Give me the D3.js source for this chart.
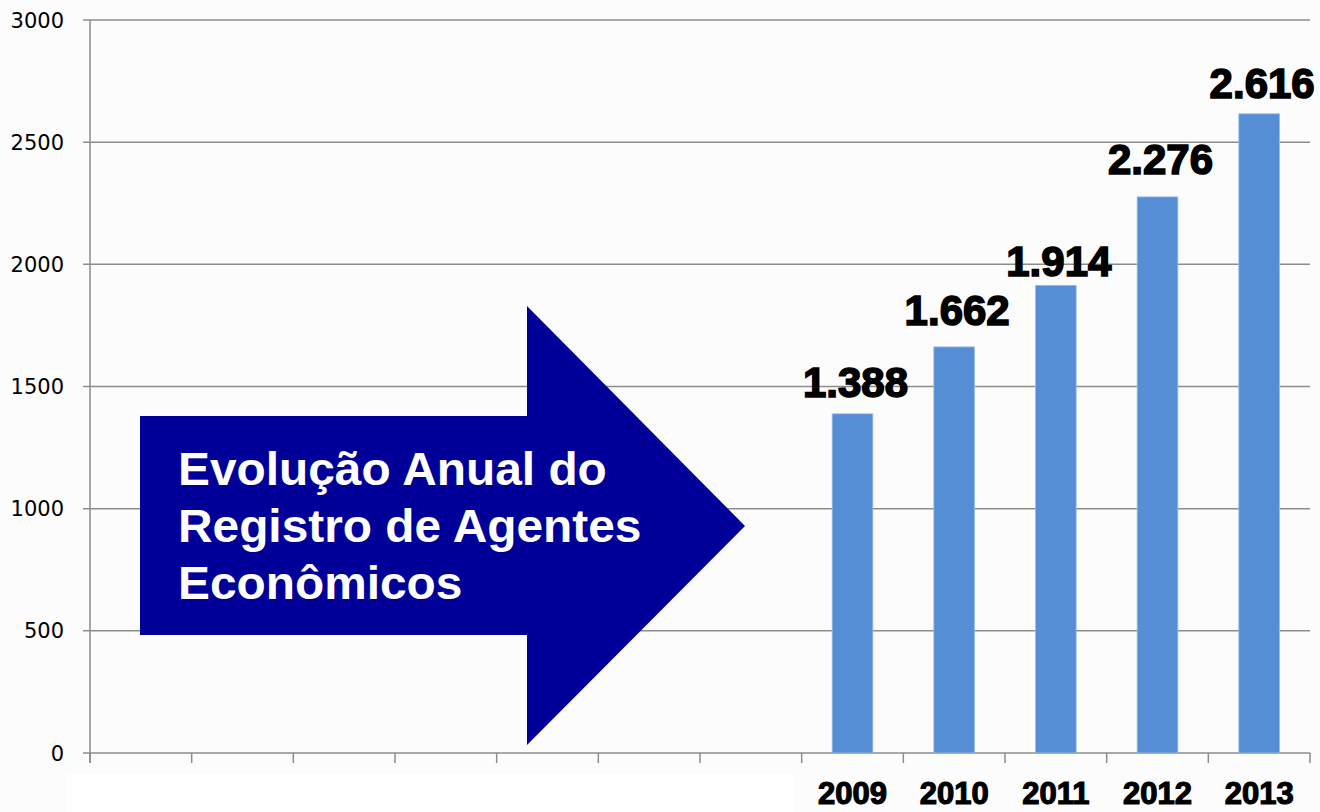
<!DOCTYPE html>
<html>
<head>
<meta charset="utf-8">
<script src="https://cdn.jsdelivr.net/npm/d3@7"></script>
<style>
  html, body { margin: 0; padding: 0; background: #fcfcfc; }
  svg { display: block; }
</style>
</head>
<body>
<div id="chart"></div>
<script>
// ── Dados ───────────────────────────────────────────
const years   = ['2009', '2010', '2011', '2012', '2013'];
const values  = [1388, 1662, 1914, 2276, 2616];
const labels  = ['1.388', '1.662', '1.914', '2.276', '2.616'];
const labelLift = [17, 22, 9, 23, 16];       // distância do rótulo ao topo da barra
const emptySlots = 7;                          // categorias vazias à esquerda
const yTicks  = [0, 500, 1000, 1500, 2000, 2500, 3000];
const titleLines = ['Evolução Anual do', 'Registro de Agentes', 'Econômicos'];

const W = 1320, H = 812;
const margin = { top: 20, right: 10, bottom: 59, left: 90 };

const svg = d3.select('#chart').append('svg')
    .attr('width', W).attr('height', H)
    .style('background', '#fcfcfc');

// faixa branca sob o eixo (resto do slide)
svg.append('rect')
    .attr('x', 67).attr('y', 774).attr('width', 728).attr('height', 38)
    .attr('fill', '#ffffff');

const slots = d3.range(emptySlots + years.length);
const x = d3.scaleBand()
    .domain(slots)
    .range([margin.left, W - margin.right])
    .paddingInner(0.6)
    .paddingOuter(0.3);

const y = d3.scaleLinear()
    .domain([0, 3000])
    .range([H - margin.bottom, margin.top]);

const step = x.step();
const x0 = margin.left, x1 = W - margin.right;

// ── Grade + eixo Y ──────────────────────────────────
const grid = svg.append('g');
grid.selectAll('line')
    .data(yTicks)
    .join('line')
    .attr('x1', x0 - 7).attr('x2', x1)
    .attr('y1', d => y(d)).attr('y2', d => y(d))
    .attr('stroke', '#8c8c8c')
    .attr('stroke-width', 1.5);

svg.append('line')
    .attr('x1', x0).attr('x2', x0)
    .attr('y1', y(3000)).attr('y2', y(0) + 10)
    .attr('stroke', '#8c8c8c').attr('stroke-width', 1.5);

svg.append('g').selectAll('text')
    .data(yTicks)
    .join('text')
    .attr('x', 64)
    .attr('y', d => y(d))
    .attr('dy', '0.36em')
    .attr('text-anchor', 'end')
    .style('font-family', '"DejaVu Sans", sans-serif')
    .style('font-size', '21px')
    .attr('fill', '#000')
    .text(d => d);

// marcas do eixo X nas fronteiras das categorias
svg.append('g').selectAll('line')
    .data(d3.range(slots.length + 1))
    .join('line')
    .attr('x1', i => x0 + i * step).attr('x2', i => x0 + i * step)
    .attr('y1', y(0)).attr('y2', y(0) + 10)
    .attr('stroke', '#8c8c8c').attr('stroke-width', 1.5);

// ── Barras ──────────────────────────────────────────
const bars = years.map((yr, i) => ({
    slot: emptySlots + i, year: yr, value: values[i], label: labels[i], lift: labelLift[i]
}));

svg.append('g').selectAll('rect')
    .data(bars)
    .join('rect')
    .attr('x', d => x(d.slot))
    .attr('width', x.bandwidth())
    .attr('y', d => y(d.value))
    .attr('height', d => y(0) - y(d.value))
    .attr('fill', '#558ed5')
    .attr('stroke', '#9dbbe6')
    .attr('stroke-width', 0.8);

// rótulos de valor
svg.append('g').selectAll('text')
    .data(bars)
    .join('text')
    .attr('x', d => x(d.slot) + x.bandwidth() / 2 + 3)
    .attr('y', d => y(d.value) - d.lift)
    .attr('text-anchor', 'middle')
    .style('font-family', '"Liberation Sans", Arial, sans-serif')
    .style('font-weight', 'bold')
    .style('font-size', '42px')
    .attr('fill', '#000')
    .attr('stroke', '#000')
    .attr('stroke-width', 1.6)
    .text(d => d.label);

// rótulos do eixo X
svg.append('g').selectAll('text')
    .data(bars)
    .join('text')
    .attr('x', d => x(d.slot) + x.bandwidth() / 2)
    .attr('y', 804)
    .attr('text-anchor', 'middle')
    .style('font-family', '"Liberation Sans", Arial, sans-serif')
    .style('font-weight', 'bold')
    .style('font-size', '31px')
    .attr('fill', '#000')
    .attr('stroke', '#000')
    .attr('stroke-width', 1.2)
    .text(d => d.year);

// ── Seta com título ─────────────────────────────────
const arrow = [
    [140, 416], [527, 416], [527, 306], [745, 526],
    [527, 745], [527, 635], [140, 635]
];
svg.append('path')
    .attr('d', d3.line()(arrow) + 'Z')
    .attr('fill', '#000099');

const title = svg.append('g');
const tLines = title.selectAll('text')
    .data(titleLines)
    .join('text')
    .attr('x', 178)
    .attr('y', (d, i) => 485 + i * 57)
    .style('font-family', '"Liberation Sans", Arial, sans-serif')
    .style('font-weight', 'bold')
    .style('font-size', '46px')
    .attr('fill', '#ffffff')
    .text(d => d);

// texto levemente condensado como no original
const w0 = tLines.node().getComputedTextLength();
const sx = 429 / w0;
tLines.attr('transform', function () {
    const tx = 178;
    return `translate(${tx},0) scale(${sx},1) translate(${-tx},0)`;
});
</script>
</body>
</html>
